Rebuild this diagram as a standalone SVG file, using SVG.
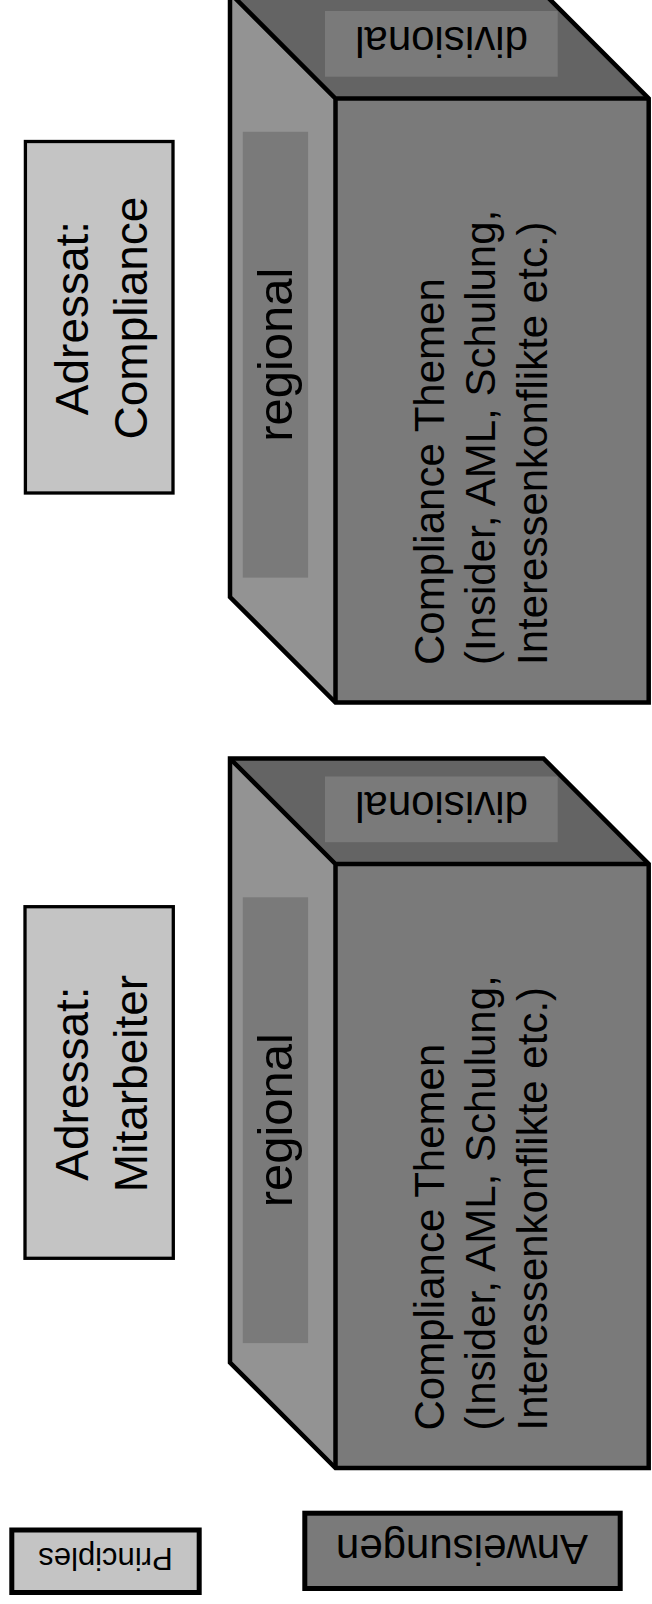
<svg xmlns="http://www.w3.org/2000/svg" width="652" height="1604" viewBox="0 0 652 1604">
<defs>
<style>
text { font-family: "Liberation Sans", Arial, sans-serif; fill: #000; }
.edge { fill: none; stroke: #000; stroke-width: 4.5; stroke-linejoin: miter; }
.top { fill: #646464; }
.side { fill: #939393; }
.front { fill: #7a7a7a; }
.inner { fill: #7a7a7a; stroke: none; }
.light { fill: #c4c4c4; stroke: #000; stroke-width: 3.3; }
.dark { fill: #7a7a7a; stroke: #000; stroke-width: 5; }
.big { font-size: 46px; }
.mid { font-size: 42px; }
</style>
<g id="cube-shape">
  <polygon class="top" points="230,-7 543.5,-7 648.7,98.5 335.5,98.5"/>
  <polygon class="side" points="230,-7 335.5,98.5 335.5,702.5 230,597"/>
  <rect class="front" x="335.5" y="98.5" width="313.2" height="604"/>
  <polygon class="edge" points="230,-7 543.5,-7 648.7,98.5 648.7,702.5 335.5,702.5 230,597"/>
  <path class="edge" d="M230,-7 L335.5,98.5 L648.7,98.5 M335.5,98.5 L335.5,702.5"/>
  <rect class="inner" x="325" y="11" width="232.7" height="65.7"/>
  <rect class="inner" x="242.8" y="131.8" width="65.3" height="445.8"/>
  <text class="mid" text-anchor="middle" transform="translate(441.5,26.7) rotate(180)">divisional</text>
  <text font-size="49" text-anchor="middle" transform="translate(291.5,354.7) rotate(-90)">regional</text>
  <text class="mid" transform="translate(443.5,665) rotate(-90)"><tspan x="0" y="0">Compliance Themen</tspan><tspan x="0" y="51.8">(Insider, AML, Schulung,</tspan><tspan x="0" y="103.5">Interessenkonflikte etc.)</tspan></text>
</g>
</defs>
<g id="cube-compliance">
  <use href="#cube-shape"/>
</g>
<g id="cube-mitarbeiter">
  <use href="#cube-shape" transform="translate(0,765.5)"/>
</g>
<g id="adressat-compliance">
  <rect class="light" x="25.4" y="141.5" width="147.6" height="351.5"/>
  <text class="big" text-anchor="middle" transform="translate(88,318) rotate(-90)"><tspan x="0" y="0">Adressat:</tspan><tspan x="0" y="58.5">Compliance</tspan></text>
</g>
<g id="adressat-mitarbeiter">
  <rect class="light" x="25" y="906.7" width="148.3" height="351.6"/>
  <text class="big" text-anchor="middle" transform="translate(88,1083.5) rotate(-90)"><tspan x="0" y="0">Adressat:</tspan><tspan x="0" y="58.5">Mitarbeiter</tspan></text>
</g>
<g id="principles">
  <rect class="light" x="11.8" y="1530" width="187.4" height="62.5" style="stroke-width:5"/>
  <text font-size="31" text-anchor="middle" transform="translate(105.5,1548.3) rotate(180)">Principles</text>
</g>
<g id="anweisungen">
  <rect class="dark" x="304.8" y="1513.2" width="315.4" height="75.3"/>
  <text class="mid" text-anchor="middle" transform="translate(462,1535) rotate(180)">Anweisungen</text>
</g>
<g id="connectors"></g>
</svg>
